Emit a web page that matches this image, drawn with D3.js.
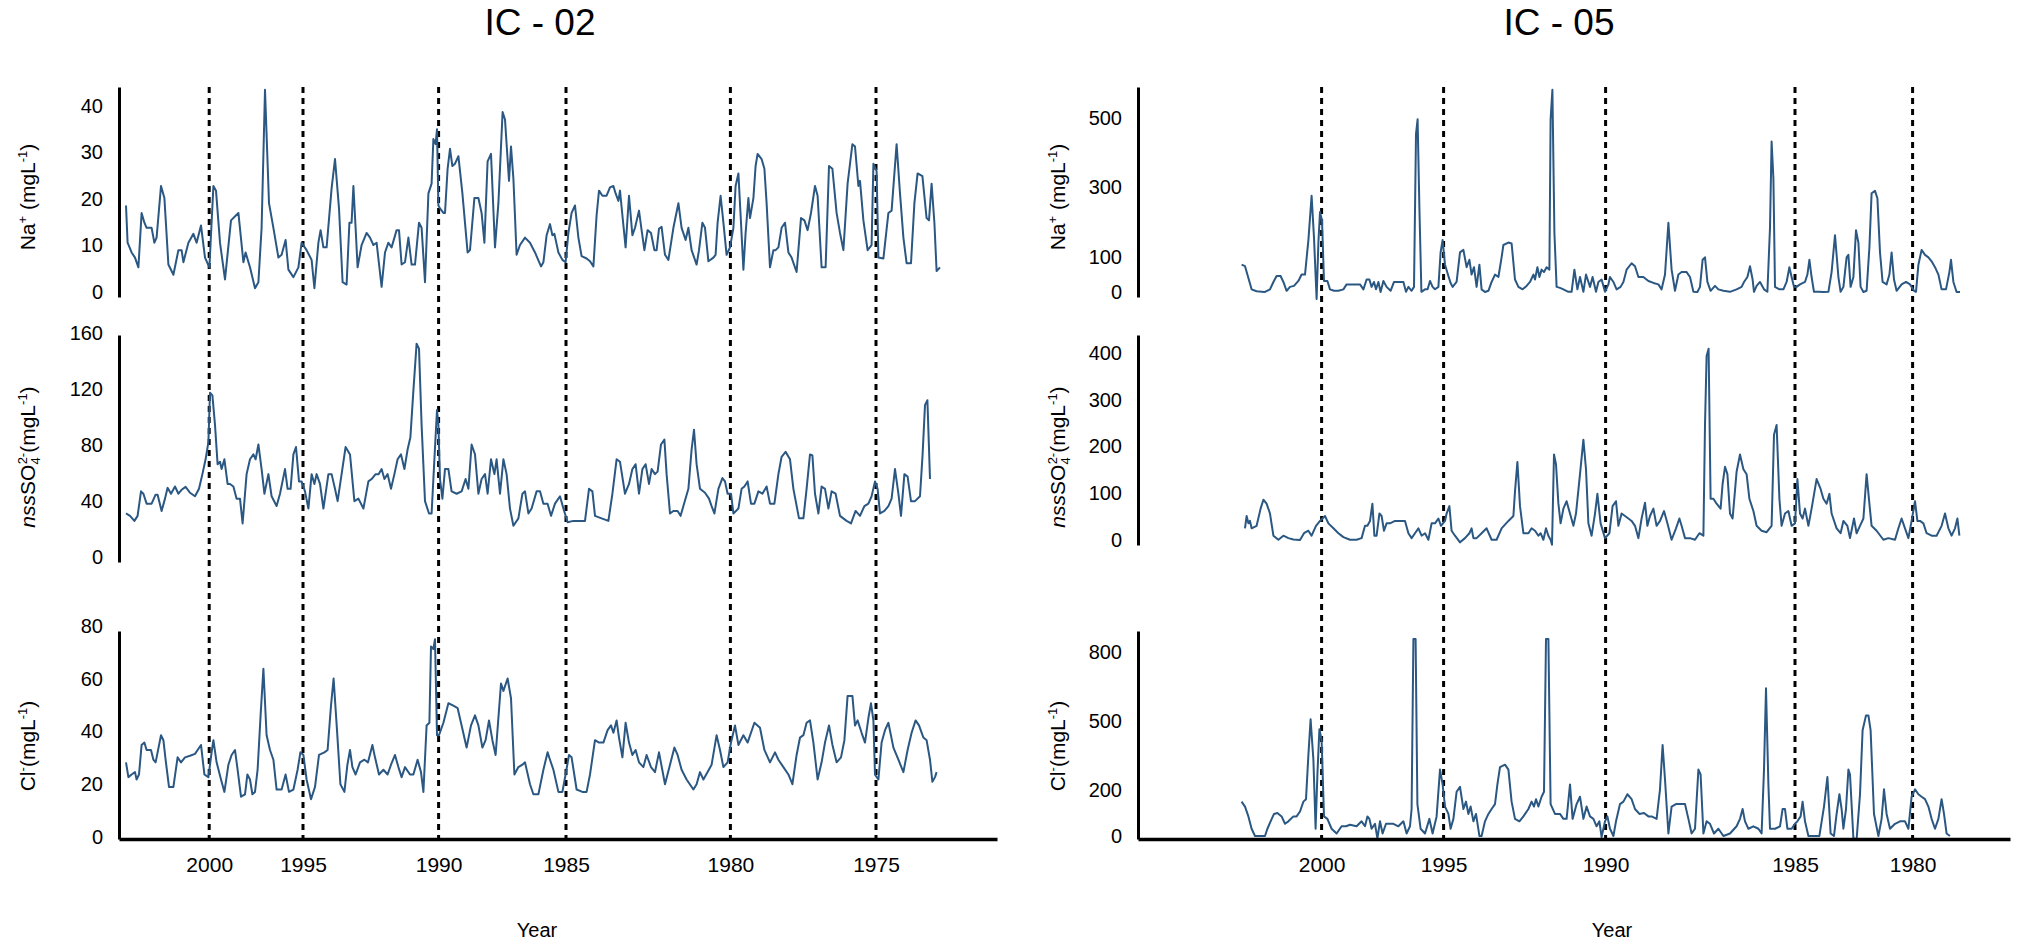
<!DOCTYPE html>
<html>
<head>
<meta charset="utf-8">
<script src="https://cdn.jsdelivr.net/npm/d3@7"></script>
<style>
  html, body { margin: 0; padding: 0; background: #fff; }
  svg { display: block; }
</style>
</head>
<body>
<svg id="chart" width="2025" height="944"></svg>
<script>
// ---------- Data: [depth (sample no.), concentration mg/L] ----------
const ic02Years = [2000, 1995, 1990, 1985, 1980, 1975];
const ic02YearDepths = [41.6, 88.5, 156.3, 220, 302.2, 375];
const ic05Years = [2000, 1995, 1990, 1985, 1980];
const ic05YearDepths = [40.8, 101.8, 182.8, 277.5, 336.3];

const ic02NaTicks = [0, 10, 20, 30, 40];
const ic02SO4Ticks = [0, 40, 80, 120, 160];
const ic02ClTicks = [0, 20, 40, 60, 80];
const ic05NaTicks = [0, 100, 300, 500];
const ic05SO4Ticks = [0, 100, 200, 300, 400];
const ic05ClTicks = [0, 200, 500, 800];

const ic02Na = [[0,18.6],[0.8,10.6],[2.8,8.5],[4.5,7.4],[6.2,5.3],[7.8,17],[9.2,14.9],[10.3,13.8],[12.8,13.8],[14.2,10.6],[15.3,11.7],[17.5,22.8],[19.2,20.2],[21.2,5.9],[23.7,3.7],[26.2,9],[27.8,9],[28.7,6.4],[31.2,10.6],[33.7,12.5],[35.3,10.6],[37.5,14.3],[39.5,7.4],[41.7,5.3],[43.7,22.8],[45,21.8],[47,10.6],[49.5,2.7],[52.5,15.4],[56.2,17],[58.7,6.4],[59.8,8.5],[62,5.3],[64.5,0.8],[66.2,2.1],[67.8,13.8],[69.5,43.5],[71.5,19.1],[73.7,13.8],[76.2,7.4],[77.8,8],[79.8,11.2],[81.2,4.8],[83.7,3.2],[86.2,5.3],[87.8,10.6],[90.3,9],[92.8,6.9],[94.2,0.8],[96.2,10.6],[97.3,13.3],[98.7,9.6],[100.3,9.6],[102.8,22.3],[104.5,28.6],[106.5,18],[108.3,2.1],[110.3,1.6],[111.7,14.9],[112.8,14.9],[113.7,22.8],[114.8,13.8],[115.8,5.3],[117.8,10.1],[120.3,12.7],[122,11.7],[123.7,10.1],[125.3,10.6],[127.8,1.1],[129.5,8.5],[131.2,10.6],[132.8,9.6],[135.3,13.3],[136.5,13.3],[137.8,5.9],[139.5,6.4],[141.2,11.7],[142.8,5.9],[144.5,5.9],[146.5,14.9],[147.8,13.8],[149.5,2.1],[151.2,21.2],[152.8,23.3],[153.7,32.9],[154.8,31.8],[155.5,35],[156.2,18.6],[157,18],[158.7,17],[159.5,17],[160.8,26.5],[162,30.8],[163.2,27.1],[164.5,27.6],[166.2,29.2],[168.2,21.2],[170.8,8.5],[172,9],[174.2,20.2],[176.2,20.2],[177.8,17],[179.2,10.6],[180.8,28.1],[182.5,29.7],[184.5,9.6],[186.2,19.1],[188.3,38.7],[189.5,37.1],[191.5,23.9],[192.5,31.3],[193.7,24.4],[195.3,8],[197,10.1],[199.5,11.7],[202,10.6],[204.5,8.5],[207.5,5.5],[208.7,6.4],[210.3,12.2],[212,14.6],[213.2,12.2],[214.2,12.5],[216.2,8.5],[218.2,6.9],[219.8,6.4],[221.2,12.7],[222.8,17],[224.5,18.6],[226.2,11.7],[227.8,7.7],[230.3,7.2],[232,6.6],[233.7,5.5],[235.3,16.5],[236.5,21.8],[238.2,20.7],[240.3,20.7],[242,22.5],[243.7,22.8],[244.8,21.2],[246.2,19.6],[247,21.8],[248.2,16.5],[249.8,9.6],[251.5,20.7],[253.2,12.2],[254.5,13.8],[256.5,17.5],[257.8,13.3],[259.2,9],[260.8,13.3],[262.5,12.7],[264.2,9],[265.3,9],[266.5,13.6],[267.8,14],[269.5,8],[271.2,6.9],[273.7,13.8],[276.2,19.1],[277.8,13.8],[279.8,11.2],[281.2,13.8],[282.8,9],[285.3,5.9],[286.5,9],[288.2,14.9],[289.5,13.8],[291.2,6.6],[293.7,7.4],[294.8,8],[295.8,14.9],[297.3,20.7],[298.7,14.9],[300.3,8],[302,9.6],[303.7,13.8],[304.8,22.8],[306.2,25.5],[307.5,14.9],[308.7,4.8],[309.8,12.7],[311.2,20.2],[312,15.9],[313.7,20.2],[314.8,27.1],[315.8,29.7],[317.8,28.6],[319.2,26.5],[320.3,19.1],[322,5.3],[323.7,9],[324.8,9],[326.2,9.6],[327.8,13.8],[329.5,14.9],[331.2,8.5],[332.8,7.4],[335.3,4.3],[337.5,15.9],[339.2,15.4],[340.8,13.3],[342.5,17],[344.5,22.8],[345.8,20.7],[347.8,5.3],[349.8,5.3],[351.5,27.1],[353.2,26.5],[355.3,17],[357,12.7],[358.7,9],[360.8,23.3],[363.2,31.8],[364.5,31.3],[366.2,22.8],[367,23.9],[368.7,15.4],[370.8,9],[372.8,10.1],[373.7,27.6],[375.3,26],[376.2,7.4],[378.7,7.2],[381.2,17],[382.8,17.5],[385.3,31.8],[387,21.2],[388.7,11.7],[390.3,6.2],[392.5,6.2],[394.2,19.1],[395.8,25.5],[398.2,24.9],[400.3,15.9],[401.5,15.4],[402.8,23.3],[404.2,14.9],[405.3,4.5],[407,5.3]];

const ic02SO4 = [[0,31.1],[2,29.4],[4.2,25.8],[5.8,29.4],[7.5,46.9],[8.7,45.2],[10.3,38.1],[12.8,38.1],[14.8,44.5],[15.8,44.5],[17.8,32.9],[19.5,41.7],[20.8,49.4],[22.5,45.2],[24.5,50.4],[26.2,45.2],[27.8,48],[29.8,50.1],[32,45.9],[34.5,43.4],[36.5,48.7],[38.2,59.2],[39.8,69.8],[41.2,82.1],[42,117.3],[43.2,115.5],[44.5,94.4],[45.8,66.3],[47,68],[47.8,62.8],[49.2,69.8],[50.8,52.2],[52,52.2],[53.7,50.4],[55.3,41.7],[57,41.7],[58.3,24],[60.3,59.2],[62,69.8],[63.7,73.3],[64.8,69.8],[66.2,80.4],[67.8,62.8],[69.2,45.2],[71.2,59.2],[72.8,43.4],[75.3,36.4],[77,45.2],[79.5,62.8],[80.8,48.7],[82.3,48.7],[83.7,73.3],[85,78.6],[86.5,54],[87.8,54],[89.5,46.9],[91.2,34.6],[92.8,59.2],[94.2,52.2],[95.3,59.2],[97,52.2],[98.7,34.6],[101.2,59.2],[102.8,59.2],[104.5,48.7],[105.8,39.9],[107.8,59.2],[109.8,78.6],[112,73.3],[114.2,39.9],[116.2,41.7],[118.7,34.6],[121.2,54],[122.8,55.7],[124.8,59.2],[126.3,59.2],[127.8,62.8],[129.2,55.7],[130.8,59.2],[132.5,48.7],[134.2,59.2],[135.8,69.8],[137.5,73.3],[139.2,62.8],[140.8,76.8],[142.2,85.6],[143.7,119],[145.3,152.4],[146.5,148.9],[147.8,94.4],[149.5,39.9],[151.5,31.1],[152.8,31.1],[154.2,69.8],[155.5,105],[156.2,94.4],[157,55.7],[158.2,41.7],[159.5,62.8],[161.2,62.8],[162.8,46.9],[165.3,45.2],[167.8,46.9],[169.8,55.7],[171.2,48.7],[172.8,80.4],[174.5,73.3],[176.2,45.2],[177.8,55.7],[179.5,59.2],[180.8,45.2],[182.5,69.8],[184.2,59.2],[185.3,69.8],[187,45.2],[188.7,69.8],[190.3,59.2],[192,34.6],[193.7,22.3],[196.2,27.6],[198.2,45.2],[199.5,46.9],[201.2,31.1],[202.8,34.6],[205.3,46.9],[207,46.9],[208.7,38.1],[210.8,38.1],[212.5,29.4],[214.5,38.1],[217,43.4],[218.7,34.6],[220.8,24.8],[223.7,25.8],[227,25.8],[229.5,25.8],[231.5,48.7],[233.2,46.9],[234.5,29.4],[237.8,27.6],[241.2,25.8],[243.2,45.2],[245.3,69.8],[247,68],[249.5,45.2],[251.5,52.2],[253.2,62.8],[254.8,66.3],[256.5,45.2],[258.2,62.8],[259.8,66.3],[261.5,52.2],[262.8,62.8],[264.5,59.2],[265.8,61],[267.5,80.4],[269.2,83.9],[270.3,59.2],[272,31.1],[273.7,32.9],[275.8,32.9],[277.3,29.4],[278.7,36.4],[281.2,48.7],[282.8,76.8],[284,90.9],[285.3,66.3],[287,48.7],[289.5,45.9],[291.5,41.7],[292.8,36.4],[294.2,31.1],[296.2,48.7],[298.2,56.4],[299.5,54],[300.8,45.2],[302.5,45.2],[303.7,31.1],[306.2,34.6],[307.8,48.7],[309.2,50.4],[310.8,54],[312.5,38.1],[314.2,38.1],[316.2,46.9],[318.2,45.2],[320.3,50.4],[322,38.1],[324.2,38.1],[326.2,59.2],[327.8,71.6],[329.8,75.1],[332,69.8],[333.7,48.7],[336.5,27.6],[338.7,27.6],[340.3,48.7],[342,73.3],[343.2,72.6],[344.5,45.2],[346.2,31.1],[347.8,50.4],[349.5,48.7],[351.2,34.6],[352.8,46.9],[354.8,45.2],[357,29.4],[360.3,25.8],[362.5,24],[364.8,32.9],[367,29.4],[369.2,36.4],[371.2,38.1],[372.8,43.4],[374.5,54],[375.8,48.7],[377,31.1],[379.2,32.9],[381.2,36.4],[382.8,41.7],[384.5,62.8],[386.2,45.2],[387.5,29.4],[389.2,59.2],[390.8,57.5],[392.5,39.9],[394.5,39.9],[397,43.4],[398.3,73.3],[399.5,108.5],[400.7,112],[402,55.7]];

const ic02Cl = [[0,28.3],[1.2,22.7],[2.8,23.7],[4.5,24.6],[5.3,21.8],[6.5,23.7],[7.8,34.9],[9.2,35.8],[10.3,33],[12.5,33],[13.7,29.3],[14.8,28.3],[15.8,32.1],[17.5,38.6],[18.7,36.7],[19.8,29.3],[21.5,19],[23.7,19],[25.8,30.2],[27.5,28.3],[29.5,30.2],[32,30.8],[34.5,31.5],[35.8,33],[37.5,34.9],[39.2,23.7],[41.2,22.7],[42.8,32.1],[43.7,36.7],[45.3,28.3],[47.5,21.8],[49.2,17.1],[51.2,27.4],[52.8,31.1],[54.5,33],[55.8,25.5],[57.5,15.3],[59.5,16.2],[60.7,23.7],[62,21.8],[63.2,16.2],[64.5,17.1],[65.8,25.5],[67.3,46.1],[68.7,63.8],[70.3,38.6],[72,33],[73.7,29.3],[75.3,18],[77.8,18],[79.8,23.7],[81.5,17.1],[83.7,18],[85.8,25.5],[87.2,32.1],[88.7,31.1],[90.3,21.8],[92.5,14.3],[94.5,19],[96.5,31.1],[99.2,32.1],[100.8,33],[102.5,49.8],[103.8,60.1],[105.5,40.5],[107.2,20],[109.2,17.1],[110.7,27.4],[112,33],[113.2,26.5],[114.8,23.7],[117,28.3],[119.2,29.3],[121,28.3],[123.2,34.9],[124.5,30.2],[126.5,23.7],[128.7,25.5],[130.8,23.7],[132.5,27.4],[134.5,31.1],[136.2,26.5],[137.8,22.7],[139.5,26.5],[142,23.7],[143.7,23.7],[145.8,29.3],[147.5,24.6],[148.7,17.1],[150.3,42.3],[151.7,43.3],[152.5,72.2],[153.7,71.3],[154.5,75],[155.5,38.6],[156.5,38.6],[158.7,43.3],[161.2,50.7],[163.7,49.8],[165.8,48.9],[167.8,42.3],[170.3,33.9],[172.5,42.3],[174.5,46.1],[176.2,42.3],[178.2,33.9],[179.8,36.7],[181.5,44.2],[183.2,36.7],[184.8,31.1],[187.5,58.2],[188.7,55.4],[190.8,60.1],[192.5,52.6],[194.2,23.7],[196.2,26.5],[198.2,27.4],[199.5,28.3],[202,20],[203.7,16.2],[206.2,16.2],[208.7,25.5],[210.8,32.1],[212,29.3],[213.7,25.5],[216.2,17.1],[218.2,17.1],[219.8,23.7],[221.5,31.1],[222.8,30.2],[225.3,18],[228.2,17.1],[230.3,17.1],[232,23.7],[234.5,36.7],[236.5,35.8],[238.7,35.8],[240.8,40.5],[242.5,42.3],[243.7,39.5],[245.3,44.2],[246.5,37.7],[248.2,30.2],[249.8,43.3],[251.5,35.8],[253.2,31.1],[254.8,33],[256.5,28.3],[258.7,26.5],[260.3,31.1],[262.5,26.5],[264.5,24.6],[266.5,32.1],[269.5,20],[272,27.4],[274.2,33.9],[275.8,31.1],[277.8,25.5],[280.3,21.8],[283.7,18],[285.3,20],[287,24.6],[288.7,21.8],[290.8,24.6],[292.8,27.4],[295.3,38.6],[297,33],[298.7,26.5],[300.8,28.3],[302.5,35.8],[304.5,42.3],[306.2,34.9],[308.7,38.6],[310.8,35.8],[314.2,43.3],[317,41.4],[319.2,33],[322,28.3],[324.5,32.1],[326.2,29.3],[328.7,26.5],[331.2,23.7],[333.2,20],[335.3,31.1],[337,37.7],[338.7,38.6],[340.3,43.3],[342,44.2],[343.7,35.8],[345.8,21.8],[347.8,28.3],[349.5,35.8],[351.5,42.3],[353.2,35],[355.3,28.3],[357.5,30.2],[359.2,36.7],[360.8,53.5],[363.2,53.5],[364.5,42.3],[365.8,44.2],[367.8,39.5],[369.5,35.8],[371.2,45.1],[372.5,50.7],[373.7,44.2],[374.5,23.6],[376.2,21.8],[377.8,35.8],[379.5,40.5],[381.2,43.3],[383.7,33.9],[386.2,29.3],[388.7,24.6],[390.8,33],[392.8,39.5],[394.8,44.2],[396.5,42.3],[398.7,37.7],[400.3,36.7],[402,29.3],[403.2,20.9],[404.5,22.7],[405.3,24.6]];

const ic05Na = [[0.8,78.4],[2.5,74.1],[3.7,50.1],[5.8,7.7],[8.3,2],[10.8,1],[12.5,0],[15,7.7],[16.7,28.8],[18.3,45.8],[20.3,45.8],[21.7,28.8],[23.3,3.4],[25,14.7],[27,17.5],[29.2,31.7],[30.8,50.1],[32.5,50.1],[34.2,149.2],[35.8,276.6],[37,156.2],[38.3,-20],[39.2,142],[40,229.9],[41,205.8],[42,31.7],[43.7,31.7],[45,7.6],[47,3.5],[49.2,3.4],[51.7,7.6],[53.3,21.8],[56.7,21.8],[60,21.8],[61.7,7.6],[63.3,35.9],[64.7,35.9],[65.8,14.7],[67,28.8],[68,7.7],[69.2,28.8],[70.3,0],[71.7,31.7],[73.3,14.7],[75.3,3.4],[77,28.8],[79.2,28.8],[81.7,28.8],[83,0.5],[84.2,14.7],[85.8,3.5],[87,14.7],[88,453.5],[88.8,496],[89.7,241.2],[90.7,0.5],[92.5,7.7],[93.8,7.6],[95,31.7],[96.3,14.7],[97.5,7.7],[99.2,14.7],[100.3,113.8],[101.3,149.2],[102.5,78.4],[104.2,45.8],[105.3,26],[106.3,14.7],[108.3,28.8],[110,113.8],[111.7,120.9],[113.3,71.3],[114.7,92.5],[115.8,50.1],[117,71.3],[118.3,14.7],[119.7,78.4],[120.8,7.6],[122.5,0],[124.2,3.4],[125.8,28.8],[127.5,50.1],[129.2,43],[130.8,99.6],[131.7,135],[134.2,142],[135.8,139.3],[137.5,35.9],[139.2,14.7],[141.3,7.6],[143.3,17.5],[145,28.8],[146.7,50.1],[147.5,35.9],[148.7,71.3],[149.7,43],[150.8,64.2],[152,57.2],[153.3,71.3],[154.7,64.2],[155.3,496],[156.2,580.9],[157.2,170.4],[158.3,14.7],[160,11.9],[161.7,7.6],[164.2,0.5],[165.8,0.5],[167.2,64.2],[168.7,7.6],[170,43],[171.7,0.5],[173,50.1],[175,14.7],[176.3,43],[178,0.5],[179.2,28.8],[180.8,35.9],[182.5,0.5],[184.2,21.8],[185,43],[186.7,28.8],[188.3,7.6],[190.3,14.7],[191.7,28.8],[193.3,64.2],[195.8,82.6],[197.5,74.1],[199.2,43],[201.7,43],[204.2,31.7],[206.7,26],[209.2,21.8],[210.8,7.6],[212.5,50.1],[214.2,198.7],[215.8,64.2],[217.5,3.5],[219.2,50.1],[220.8,57.2],[223.3,57.2],[225,43],[226.7,0.5],[228.7,0],[230,14.7],[231.3,92.5],[232.5,99.6],[233.7,28.8],[235.3,3.4],[237.5,17.5],[239.2,7.6],[241.7,3.4],[245,0.5],[248.3,7.6],[250.8,14.7],[252,28.8],[253.7,43],[255,74.1],[256.3,35.9],[257,0.5],[258.3,17.5],[260,28.8],[262,7.6],[263.7,0.5],[265,184.5],[265.8,432.3],[266.7,326.1],[267.5,14.7],[269.7,7.6],[271.7,7.6],[273.3,28.8],[274.7,71.3],[275.8,43],[277,14.7],[278.3,14.7],[280,21.8],[282.5,28.8],[283.7,50.1],[284.7,92.5],[285.8,43],[287,0.5],[289.2,0.5],[291.7,0],[294.2,0.5],[295.8,57.2],[297.5,163.3],[299.2,43],[300.3,0.5],[301.7,14.7],[303.3,99.6],[304.2,106.7],[305.3,14.7],[306.7,43],[308,177.5],[309.2,142],[310.3,14.7],[311.7,0],[313.3,3.5],[314.7,127.9],[315.8,283.6],[317.5,290.7],[318.7,269.5],[320,113.8],[321.3,28.8],[323.3,21.8],[324.7,50.1],[325.8,113.8],[327,35.9],[328.3,3.4],[330.8,21.8],[333,28.8],[335,21.8],[337,3.4],[338,0.5],[339.2,78.4],[340.8,120.9],[342.5,106.7],[344.2,99.6],[345.8,88.3],[347.5,71.3],[349.2,50.1],[350.8,7.6],[353,7.6],[354.7,57.2],[355.5,92.5],[356.7,28.8],[358.3,0],[360,0]];

const ic05SO4 = [[2.5,25],[3.3,51.3],[4.2,35.6],[5,40.8],[5.8,25],[8.3,30.3],[10.3,67.1],[11.7,86.1],[13.3,77.7],[15,56.6],[16.7,9.2],[19.2,0.5],[21.7,9.2],[24.2,4],[26.7,1],[30,0],[32,14.5],[34.2,19.8],[35.8,9.2],[38,30.3],[40,40.8],[42.5,51.3],[44.2,35.6],[46.7,25],[49.2,14.5],[51.7,6.1],[55,0.5],[58.3,0.5],[60.8,4],[62.5,30.3],[63.7,30.3],[65,40.8],[66.2,77.7],[67.2,9.2],[68.3,9.2],[69.7,56.6],[70.8,51.3],[72,19.8],[73.3,35.6],[75,35.6],[77.5,40.8],[80,40.8],[82.5,40.8],[84.2,14.5],[85.8,4],[87.5,14.5],[89.2,25],[90.8,9.2],[92.5,14.5],[94.2,0.5],[95.8,35.6],[97.5,35.6],[99.2,46],[100.5,30.3],[102.5,40.8],[103.3,56.6],[104.7,72.4],[105.8,19.8],[107.5,9.2],[110,-5],[112.5,4],[114.7,14.5],[115.8,25],[116.7,4],[118.3,4],[120.8,14.5],[123.3,25],[125.8,0.5],[128.3,0.5],[130.8,25],[134.2,40.8],[136.7,51.3],[137.5,104],[138.7,167.1],[140,72.4],[141.7,14.5],[144.2,14.5],[145.8,25],[147.5,19.8],[149.2,9.2],[150.3,14.5],[151.7,0.5],[153,25],[154.2,9.2],[155.3,0.5],[156,-10],[157,183],[158,161.9],[159.2,77.7],[160.3,35.6],[161.7,67.1],[163.3,83],[165,56.6],[166.7,30.3],[168,56.6],[170,140.8],[171.7,214.5],[173,151.4],[174.2,35.6],[175.8,9.2],[177.5,56.6],[178.7,98.7],[180.3,35.6],[182.5,4],[184.7,14.5],[186.3,72.4],[188,83],[189.2,30.3],[190.8,56.6],[192.5,51.3],[194.2,46],[195.8,40.8],[197.5,30.3],[199.2,4],[200.8,46],[202.5,79.8],[203.7,30.3],[205,51.3],[206.7,67.1],[208.3,30.3],[210,40.8],[212,61.9],[213.7,35.6],[215.8,0.5],[218,25],[219.7,46],[220.8,30.3],[222.5,4],[225,4],[227.5,0.5],[229.7,14.5],[231.7,9.2],[232.5,246],[233.3,393.4],[234.3,409.2],[235.3,88.2],[236.7,88.2],[238.3,77.7],[240.3,67.1],[241.3,119.8],[242.5,156.6],[243.7,140.8],[245,56.6],[246.3,46],[248.3,146.1],[250,183],[251.7,151.4],[253.3,140.8],[254.7,88.2],[256.7,61.9],[258.3,30.3],[260.8,19.8],[263.3,16.6],[265.8,30.3],[267,225],[268.3,246],[269.7,88.2],[270.8,30.3],[272.5,56.6],[274.2,61.9],[275.8,30.3],[277.5,35.6],[278.7,130.3],[280,56.6],[281.3,46],[282.5,67.1],[284.2,30.3],[285.8,67.1],[288.3,130.3],[290.3,109.2],[291.7,88.2],[293.3,77.7],[294.7,98.7],[295.8,56.6],[298.3,25],[300.3,14.5],[301.7,40.8],[303.7,30.3],[305,4],[307,46],[308.3,14.5],[310,30.3],[311.7,46],[313.3,140.8],[314.7,77.7],[315.8,30.3],[318.3,19.8],[321.7,0.5],[324.2,4],[327.5,0.5],[329.2,25],[330.8,46],[332.5,25],[334.2,4],[335.8,40.8],[337.5,83],[338.7,40.8],[340,40.8],[341.7,35.6],[343.3,14.5],[345.8,9.2],[348.3,9.2],[350.8,30.3],[352.5,56.6],[354.2,25],[355.8,9.2],[357.5,25],[358.7,46],[359.7,9.2]];

const ic05Cl = [[0.8,149.4],[2.5,128],[4.2,85.2],[5.8,31.6],[7.5,0],[10.8,0],[12.5,0],[13.7,31.6],[15.3,63.8],[17,95.9],[18.7,100.2],[20.8,85.2],[22.5,53.1],[24.2,63.8],[26.7,85.2],[28.3,85.2],[30,106.6],[31.7,149.4],[33,160.1],[34.2,352.9],[35.3,507],[36.7,331.5],[37.8,31.6],[38.7,267.2],[39.7,464.2],[40.8,417.1],[42,85.2],[43.7,74.5],[45.8,31.6],[48.3,10.9],[50.8,42.3],[53,42.3],[55,48.8],[58.3,42.3],[60.8,63.8],[62.5,42.3],[63.7,85.2],[64.7,74.5],[65.8,31.6],[67.5,53.1],[68.7,-10],[70,63.8],[71.3,10.9],[73,53.1],[74.7,53.1],[76.7,53.1],[79.2,42.3],[81.7,63.8],[83.3,10.9],[85,42.3],[85.8,117.3],[86.7,856],[87.8,856],[88.7,138.7],[90.3,31.6],[92.5,10.9],[94.7,74.5],[96.3,10.9],[98.3,85.2],[100,288.6],[101.3,224.3],[102.5,128],[104.2,95.9],[105.3,31.6],[106.7,74.5],[108.3,192.2],[110,213.6],[111.7,117.3],[113,149.4],[114.2,95.9],[115.3,128],[116.7,63.8],[118,95.9],[119.7,0.2],[120.8,0],[122.5,63.8],[124.2,95.9],[125.8,117.3],[127.5,138.7],[128.7,224.3],[130,299.3],[132.5,310],[134.2,288.6],[135.8,149.4],[137.5,74.5],[139.7,63.8],[141.7,85.2],[144.2,117.3],[145.8,149.4],[147,128],[148,160.1],[149.2,128],[150.8,170.8],[152,192.2],[153,856],[154.2,856],[155.3,138.7],[157.5,95.9],[160,95.9],[161.7,74.5],[163.3,74.5],[165,224.3],[166.3,74.5],[168.3,138.7],[170,170.8],[171.7,74.5],[173.3,128],[175,85.2],[176.7,74.5],[178.3,42.3],[179.7,63.8],[180.8,-5],[182.5,63.8],[183.7,85.2],[185,31.6],[186.7,0.2],[188,63.8],[190,138.7],[191.7,149.4],[193.7,181.5],[195.8,160.1],[197.5,117.3],[199.7,95.9],[202,100.2],[204.2,85.2],[205.8,85.2],[208.3,74.5],[210,203],[211.3,395.7],[212.5,245.8],[214.2,10.9],[215.8,128],[218,138.7],[220,138.7],[222.5,138.7],[224.2,74.5],[225.8,10.9],[227.5,31.6],[229.2,288.6],[230.3,267.2],[231.7,10.9],[233.3,63.8],[235,53.1],[237,10.9],[239.2,31.6],[241.7,0.2],[245,10.9],[248.3,42.3],[250,74.5],[251.3,117.3],[252.5,63.8],[254.2,31.6],[256.7,42.3],[259.2,31.6],[260.8,10.9],[262,288.6],[263,642],[264.2,224.3],[265,31.6],[267.5,31.6],[270,42.3],[271.3,117.3],[272.5,117.3],[273.7,31.6],[275.8,31.6],[277.5,53.1],[278.7,63.8],[280.3,85.2],[281.3,149.4],[282.5,63.8],[284.2,0.2],[286.7,0.2],[289.7,0.2],[292,128],[293.7,256.5],[295.3,10.9],[297,0.2],[298.3,95.9],[299.7,181.5],[300.8,117.3],[301.7,31.6],[303,117.3],[304.2,288.6],[305,267.2],[306.7,-10],[308.3,-15],[310,181.5],[311.3,460],[313,524.2],[314.2,524.2],[315.3,460],[317,95.9],[319.2,0.2],[320.8,74.5],[322,203],[323.3,95.9],[325,31.6],[327.5,53.1],[330,63.8],[332.5,63.8],[334.2,31.6],[335.8,170.8],[337.5,203],[339.2,181.5],[340.8,170.8],[342.5,160.1],[344.2,128],[345.8,74.5],[347.5,31.6],[349.2,74.5],[350.8,160.1],[352,95.9],[353.3,10.9],[355,0.2]];

// ---------- Layout ----------
const FONT = '"Liberation Sans", Arial, Helvetica, sans-serif';
const LINE_COLOR = "#2b5783";
const GUIDE_TOP = 87, BASE_Y = 839;

const labelSpecs = {
  na: { cy: 197, parts: [["Na"], ["+", "sup"], [" (mgL"], ["-1", "sup"], [")"]] },
  so4: { cy: 457, parts: [["nss", "it"], ["SO"], ["4", "sub"], ["2-", "supStack"], ["(mgL"], ["-1", "sup"], [")"]] },
  cl: { cy: 746, parts: [["Cl"], ["-", "sup"], ["(mgL"], ["-1", "sup"], [")"]] }
};

const panels = [
  {
    title: "IC - 02", titleX: 540, axisX0: 119, axisX1: 997, depthDomain: [-3.5, 435.5],
    years: ic02Years, yearDepths: ic02YearDepths, yearLabelX: 537, labelX: 35,
    charts: [
      { values: ic02Na, ticks: ic02NaTicks, domain: [-1.08, 44.09], top: 87, bottom: 297, label: "na" },
      { values: ic02SO4, ticks: ic02SO4Ticks, domain: [-3.57, 158.6], top: 335, bottom: 562, label: "so4" },
      { values: ic02Cl, ticks: ic02ClTicks, domain: [-0.76, 78.1], top: 631, bottom: 839, label: "cl" }
    ]
  },
  {
    title: "IC - 05", titleX: 1559, axisX0: 1138, axisX1: 2010, depthDomain: [-51, 385],
    years: ic05Years, yearDepths: ic05YearDepths, yearLabelX: 1612, labelX: 1065,
    charts: [
      { values: ic05Na, ticks: ic05NaTicks, domain: [-14.4, 589], top: 87, bottom: 297, label: "na" },
      { values: ic05SO4, ticks: ic05SO4Ticks, domain: [-10.7, 438.5], top: 335, bottom: 545, label: "so4" },
      { values: ic05Cl, ticks: ic05ClTicks, domain: [-13, 891], top: 631, bottom: 839, label: "cl" }
    ]
  }
];

const svg = d3.select("#chart").attr("font-family", FONT);
svg.append("rect").attr("width", 2025).attr("height", 944).attr("fill", "#fff");

// rotated axis title built from tspans (italic prefix, sub/superscripts)
function drawLabel(g, spec, x) {
  const t = g.append("text")
    .attr("transform", `translate(${x},${spec.cy}) rotate(-90)`)
    .attr("text-anchor", "middle")
    .attr("font-size", 21)
    .attr("fill", "#000");
  let shift = 0;
  spec.parts.forEach(([txt, kind]) => {
    const s = t.append("tspan").text(txt);
    let target = 0;
    if (kind === "sup") { target = -8; s.attr("font-size", 13); }
    else if (kind === "sub") { target = 5; s.attr("font-size", 13); }
    else if (kind === "supStack") { target = -8; s.attr("font-size", 13).attr("dx", -7); }
    else if (kind === "it") { s.attr("font-style", "italic"); }
    if (target !== shift) { s.attr("dy", target - shift); shift = target; }
  });
}

panels.forEach(p => {
  const x = d3.scaleLinear().domain(p.depthDomain).range([p.axisX0, p.axisX1]);
  const g = svg.append("g");

  g.append("text").attr("x", p.titleX).attr("y", 35)
    .attr("text-anchor", "middle").attr("font-size", 37).attr("fill", "#000")
    .text(p.title);

  // dashed year markers
  g.append("g").selectAll("line").data(p.yearDepths).join("line")
    .attr("x1", d => x(d)).attr("x2", d => x(d))
    .attr("y1", GUIDE_TOP).attr("y2", BASE_Y)
    .attr("stroke", "#000").attr("stroke-width", 3)
    .attr("stroke-dasharray", "6,5");

  p.charts.forEach(c => {
    const y = d3.scaleLinear().domain(c.domain).range([c.bottom, c.top]);

    const ax = g.append("g").attr("transform", `translate(${p.axisX0},0)`)
      .call(d3.axisLeft(y).tickValues(c.ticks).tickSize(0).tickPadding(16));
    ax.select(".domain").attr("stroke", "#000").attr("stroke-width", 3);
    ax.selectAll("text").attr("font-size", 20).attr("font-family", FONT).attr("fill", "#000");

    const line = d3.line().x(d => x(d[0])).y(d => y(d[1]));
    g.append("path").datum(c.values)
      .attr("d", line)
      .attr("fill", "none")
      .attr("stroke", LINE_COLOR)
      .attr("stroke-width", 2)
      .attr("stroke-linejoin", "round");

    drawLabel(g, labelSpecs[c.label], p.labelX);
  });

  const xa = g.append("g").attr("transform", `translate(0,${BASE_Y})`)
    .call(d3.axisBottom(x).tickValues(p.yearDepths)
      .tickFormat((d, i) => p.years[i]).tickSize(0).tickPadding(18));
  xa.select(".domain").attr("stroke", "#000").attr("stroke-width", 3.5);
  xa.selectAll("text").attr("font-size", 21).attr("font-family", FONT).attr("fill", "#000");

  g.append("text").attr("x", p.yearLabelX).attr("y", 937)
    .attr("text-anchor", "middle").attr("font-size", 20).attr("fill", "#000")
    .text("Year");
});
</script>
</body>
</html>
